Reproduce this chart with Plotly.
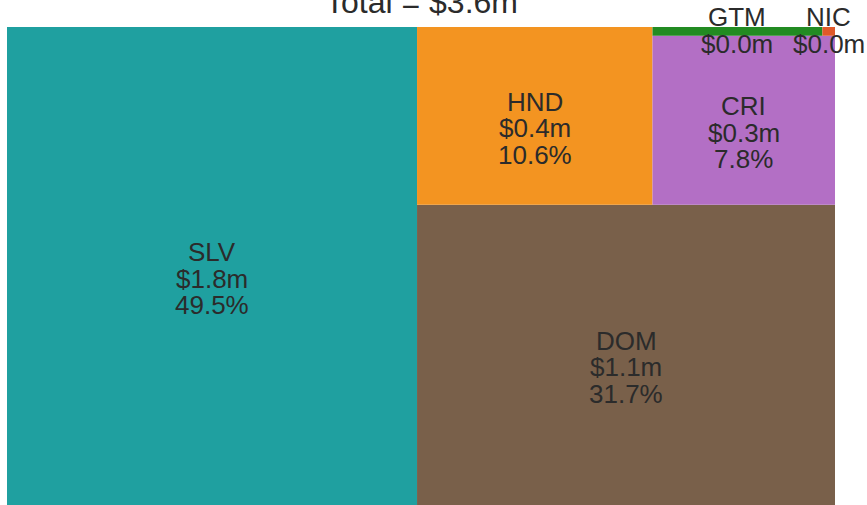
import plotly.graph_objects as go

# ---- data ----
countries = ["SLV", "DOM", "HND", "CRI", "GTM", "NIC"]
values_m = [1.78, 1.14, 0.38, 0.28, 0.0135, 0.001]   # USD millions
colors = ["#1fa0a0", "#79604a", "#f39421", "#b36fc5", "#228b22", "#e0592a"]
title_prefix = "Total = "


# ---- squarify layout (same algorithm as the squarify package) ----
def normalize_sizes(sizes, dx, dy):
    total = sum(sizes)
    return [s * dx * dy / total for s in sizes]


def layoutrow(sizes, x, y, dx, dy):
    width = sum(sizes) / dy
    rects = []
    for s in sizes:
        rects.append(dict(x=x, y=y, dx=width, dy=s / width))
        y += s / width
    return rects


def layoutcol(sizes, x, y, dx, dy):
    height = sum(sizes) / dx
    rects = []
    for s in sizes:
        rects.append(dict(x=x, y=y, dx=s / height, dy=height))
        x += s / height
    return rects


def layout(sizes, x, y, dx, dy):
    return layoutrow(sizes, x, y, dx, dy) if dx >= dy else layoutcol(sizes, x, y, dx, dy)


def leftover(sizes, x, y, dx, dy):
    if dx >= dy:
        w = sum(sizes) / dy
        return x + w, y, dx - w, dy
    h = sum(sizes) / dx
    return x, y + h, dx, dy - h


def worst_ratio(sizes, x, y, dx, dy):
    return max(max(r["dx"] / r["dy"], r["dy"] / r["dx"]) for r in layout(sizes, x, y, dx, dy))


def squarify(sizes, x, y, dx, dy):
    sizes = list(map(float, sizes))
    if len(sizes) == 0:
        return []
    if len(sizes) == 1:
        return layout(sizes, x, y, dx, dy)
    i = 1
    while i < len(sizes) and worst_ratio(sizes[:i], x, y, dx, dy) >= worst_ratio(sizes[:i + 1], x, y, dx, dy):
        i += 1
    cur, rem = sizes[:i], sizes[i:]
    lx, ly, ldx, ldy = leftover(cur, x, y, dx, dy)
    return layout(cur, x, y, dx, dy) + squarify(rem, lx, ly, ldx, ldy)


NX, NY = 100.0, 100.0
rects = squarify(normalize_sizes(values_m, NX, NY), 0, 0, NX, NY)
total = sum(values_m)

fig = go.Figure()
annotations = []
text_color = "#2b2b2b"
line_step = 26.5

for name, v, col, r in zip(countries, values_m, colors, rects):
    x0, y0, x1, y1 = r["x"], r["y"], r["x"] + r["dx"], r["y"] + r["dy"]
    fig.add_trace(go.Scatter(
        x=[x0, x1, x1, x0, x0], y=[y0, y0, y1, y1, y0],
        mode="lines", fill="toself", fillcolor=col,
        line=dict(width=0, color=col), hoverinfo="text",
        text=f"{name}", showlegend=False,
    ))
    pct = 100 * v / total
    lines = [name, f"${v:.1f}m"]
    if pct >= 1:
        lines.append(f"{pct:.1f}%")
    cx, cy = (x0 + x1) / 2, (y0 + y1) / 2
    for i, t in enumerate(lines):
        annotations.append(dict(
            x=cx, y=cy, xref="x", yref="y", text=t, showarrow=False,
            xanchor="center", yanchor="middle",
            yshift=14 - line_step * i,
            font=dict(family="Liberation Sans, Arial, sans-serif", size=26, color=text_color),
        ))

annotations.append(dict(
    x=0.5, y=1, xref="paper", yref="paper", text=f"{title_prefix}${total:.1f}m",
    showarrow=False, xanchor="center", yanchor="bottom", yshift=5,
    font=dict(family="Liberation Sans, Arial, sans-serif", size=32, color=text_color),
))

fig.update_layout(
    width=867, height=505,
    margin=dict(l=7, r=32, t=27, b=0),
    paper_bgcolor="white", plot_bgcolor="white",
    xaxis=dict(range=[0, NX], visible=False, fixedrange=True),
    yaxis=dict(range=[0, NY], visible=False, fixedrange=True),
    annotations=annotations,
    showlegend=False,
)

fig.write_html("out.html", config={"displayModeBar": False},
               post_script="document.body.style.margin='0';")
